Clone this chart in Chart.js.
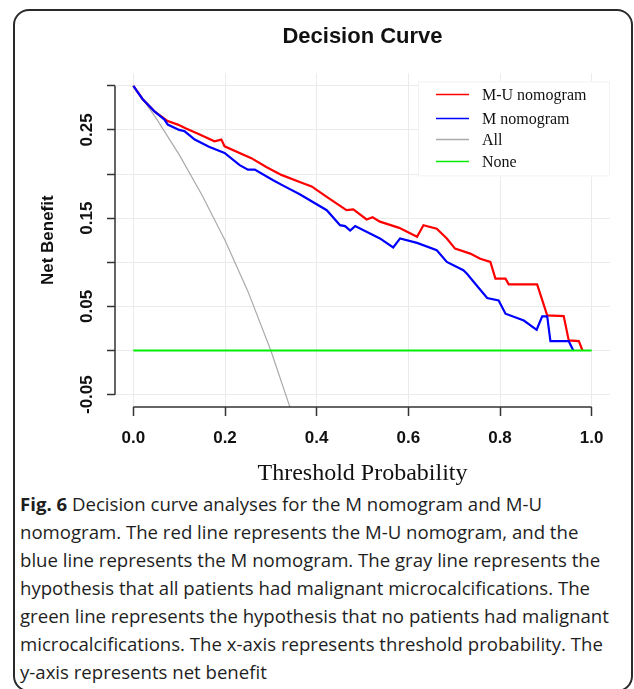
<!DOCTYPE html>
<html>
<head>
<meta charset="utf-8">
<script src="https://cdn.jsdelivr.net/npm/chart.js@4.4.0/dist/chart.umd.min.js"></script>
<style>
  body { margin: 0; background: #fff; }
  #frame {
    position: absolute; left: 13px; top: 9px; width: 620px; height: 683px;
    box-sizing: border-box; border: 2px solid #2a2a2a; border-radius: 16px;
  }
  #myChart { position: absolute; left: 0; top: 0; }
  #caption {
    position: absolute; left: 20px; top: 490px; width: 612px;
    font-family: "Open Sans", sans-serif; font-size: 18.6px; line-height: 28px;
    color: #1e1e1e; white-space: nowrap;
  }
</style>
</head>
<body>
<div id="frame"></div>
<canvas id="myChart" width="634" height="490"></canvas>
<div id="caption">
  <b>Fig. 6</b> Decision curve analyses for the M nomogram and M-U<br>
  nomogram. The red line represents the M-U nomogram, and the<br>
  blue line represents the M nomogram. The gray line represents the<br>
  hypothesis that all patients had malignant microcalcifications. The<br>
  green line represents the hypothesis that no patients had malignant<br>
  microcalcifications. The x-axis represents threshold probability. The<br>
  y-axis represents net benefit
</div>
<script>
// data

var muThreshold = [0, 0.02, 0.046, 0.075, 0.097, 0.115, 0.14, 0.177, 0.192, 0.199, 0.2575, 0.29, 0.323,
    0.363, 0.389, 0.422, 0.465, 0.48, 0.509, 0.522, 0.538, 0.58, 0.619, 0.633, 0.662, 0.684, 0.702,
    0.735, 0.757, 0.779, 0.79, 0.812, 0.819, 0.881, 0.903, 0.939, 0.950, 0.972, 0.98];
var muNetBenefit = [0.300, 0.285, 0.271, 0.260, 0.256, 0.2515, 0.246, 0.237, 0.239, 0.2314, 0.218, 0.208, 0.199,
    0.191, 0.186, 0.174, 0.159, 0.160, 0.1485, 0.151, 0.146, 0.139, 0.1288, 0.142, 0.138, 0.127, 0.1155,
    0.1098, 0.104, 0.1004, 0.0815, 0.0815, 0.075, 0.075, 0.0398, 0.039, 0.0114, 0.0106, 0];

var mThreshold = [0, 0.02, 0.046, 0.068, 0.075, 0.1, 0.112, 0.134, 0.165, 0.199, 0.232, 0.25, 0.265,
    0.305, 0.33, 0.363, 0.422, 0.451, 0.462, 0.473, 0.484, 0.538, 0.567, 0.582, 0.619, 0.662, 0.684,
    0.72, 0.728, 0.746, 0.772, 0.797, 0.812, 0.852, 0.880, 0.892, 0.903, 0.910, 0.950, 0.96];
var mNetBenefit = [0.300, 0.285, 0.271, 0.2617, 0.256, 0.25, 0.2484, 0.239, 0.231, 0.2239, 0.210, 0.205, 0.205,
    0.193, 0.186, 0.177, 0.159, 0.142, 0.141, 0.136, 0.141, 0.127, 0.1167, 0.127, 0.122, 0.1136, 0.1004,
    0.091, 0.087, 0.0757, 0.0595, 0.0568, 0.0417, 0.034, 0.0235, 0.0386, 0.0386, 0.0106, 0.0106, 0];

var allThreshold = [0, 0.05, 0.1, 0.15, 0.2, 0.25, 0.3, 0.35];
var allNetBenefit = [0.300, 0.263, 0.222, 0.176, 0.125, 0.067, 0.0, -0.077];

var noneThreshold = [0, 1];
var noneNetBenefit = [0, 0];

var xTicks = [0, 0.2, 0.4, 0.6, 0.8, 1.0];
var xTickLabels = ['0.0', '0.2', '0.4', '0.6', '0.8', '1.0'];
var yTicks = [-0.05, 0, 0.05, 0.10, 0.15, 0.20, 0.25, 0.30];
var yTickLabels = ['-0.05', '', '0.05', '', '0.15', '', '0.25', ''];

function toPoints(xs, ys) {
    return xs.map(function (x, i) { return {x: x, y: ys[i]}; });
}

// R style axes, rotated y labels and the legend box
var rAxes = {
    id: 'rAxes',
    afterDraw: function (chart) {
        var ctx = chart.ctx;
        var xs = chart.scales.x, ys = chart.scales.y;
        var area = chart.chartArea;
        ctx.save();
        ctx.strokeStyle = '#333';
        ctx.lineWidth = 1.5;
        ctx.beginPath();
        ctx.moveTo(xs.getPixelForValue(xTicks[0]), area.bottom);
        ctx.lineTo(xs.getPixelForValue(xTicks[xTicks.length - 1]), area.bottom);
        ctx.moveTo(area.left, ys.getPixelForValue(yTicks[0]));
        ctx.lineTo(area.left, ys.getPixelForValue(yTicks[yTicks.length - 1]));
        ctx.stroke();

        ctx.fillStyle = '#111';
        ctx.font = 'bold 17px "Liberation Sans", Arial, sans-serif';
        ctx.textAlign = 'center';
        ctx.textBaseline = 'middle';
        yTicks.forEach(function (v, i) {
            if (!yTickLabels[i]) return;
            ctx.save();
            ctx.translate(area.left - 28, ys.getPixelForValue(v));
            ctx.rotate(-Math.PI / 2);
            ctx.fillText(yTickLabels[i], 0, 0);
            ctx.restore();
        });

        // legend
        var bx = area.right - 192, by = area.top + 8;
        ctx.fillStyle = '#fff';
        ctx.fillRect(bx, by, 192, 95);
        ctx.strokeStyle = '#f2f2f2';
        ctx.lineWidth = 1;
        ctx.strokeRect(bx + 0.5, by + 0.5, 191, 94);
        ctx.font = '16px "Liberation Serif", "Times New Roman", serif';
        ctx.textAlign = 'left';
        ctx.textBaseline = 'middle';
        var rows = [13, 37, 58, 80];
        chart.data.datasets.forEach(function (ds, i) {
            var ly = by + rows[i];
            ctx.strokeStyle = ds.borderColor;
            ctx.lineWidth = 1.5;
            ctx.beginPath();
            ctx.moveTo(bx + 18, ly);
            ctx.lineTo(bx + 51, ly);
            ctx.stroke();
            ctx.fillStyle = '#111';
            ctx.fillText(ds.label, bx + 64, ly + 1);
        });
        ctx.restore();
    }
};

var ctx = document.getElementById('myChart').getContext('2d');
var chart = new Chart(ctx, {
    type: 'line',
    data: {
        datasets: [{
            label: 'M-U nomogram',
            data: toPoints(muThreshold, muNetBenefit),
            borderColor: '#ff0000',
            borderWidth: 2.2,
            order: 2
        }, {
            label: 'M nomogram',
            data: toPoints(mThreshold, mNetBenefit),
            borderColor: '#0000ff',
            borderWidth: 2.2,
            order: 1
        }, {
            label: 'All',
            data: toPoints(allThreshold, allNetBenefit),
            borderColor: '#aaaaaa',
            borderWidth: 1.2,
            order: 3
        }, {
            label: 'None',
            data: toPoints(noneThreshold, noneNetBenefit),
            borderColor: '#00ee00',
            borderWidth: 2.2,
            order: 0
        }]
    },
    options: {
        responsive: false,
        animation: false,
        events: [],
        elements: { point: { radius: 0 }, line: { tension: 0, fill: false } },
        layout: { padding: { left: 14, right: 24, top: 11, bottom: 0 } },
        plugins: {
            legend: { display: false },
            tooltip: { enabled: false },
            title: {
                display: true,
                fullSize: false,
                text: 'Decision Curve',
                color: '#111',
                font: { family: '"Liberation Sans", Arial, sans-serif', size: 22, weight: 'bold' },
                padding: { top: 13, bottom: 23 }
            }
        },
        scales: {
            x: {
                type: 'linear',
                bounds: 'data',
                min: -0.04,
                max: 1.04,
                afterBuildTicks: function (scale) {
                    scale.ticks = xTicks.map(function (v) { return {value: v}; });
                },
                afterFit: function (scale) { scale.height = 83; },
                border: { display: false },
                grid: { color: '#ebebeb', lineWidth: 1, drawTicks: true, tickLength: 9, tickColor: '#333', tickWidth: 1.5 },
                ticks: {
                    padding: 12,
                    color: '#111',
                    maxRotation: 0,
                    font: { family: '"Liberation Sans", Arial, sans-serif', size: 17, weight: 'bold' },
                    callback: function (v) { return xTickLabels[xTicks.indexOf(v)]; }
                },
                title: {
                    display: true,
                    text: 'Threshold Probability',
                    color: '#111',
                    font: { family: '"Liberation Serif", "Times New Roman", serif', size: 24 },
                    padding: { top: 0, bottom: 2 }
                }
            },
            y: {
                type: 'linear',
                bounds: 'data',
                min: -0.064,
                max: 0.314,
                afterBuildTicks: function (scale) {
                    scale.ticks = yTicks.map(function (v) { return {value: v}; });
                },
                afterFit: function (scale) { scale.width = 101; },
                border: { display: false },
                grid: { color: '#ebebeb', lineWidth: 1, drawTicks: true, tickLength: 8, tickColor: '#333', tickWidth: 1.5 },
                ticks: { display: false },
                title: {
                    display: true,
                    text: 'Net Benefit',
                    color: '#111',
                    font: { family: '"Liberation Sans", Arial, sans-serif', size: 17, weight: 'bold' },
                    padding: { top: 24, bottom: 0 }
                }
            }
        }
    },
    plugins: [rAxes]
});
</script>
</body>
</html>
